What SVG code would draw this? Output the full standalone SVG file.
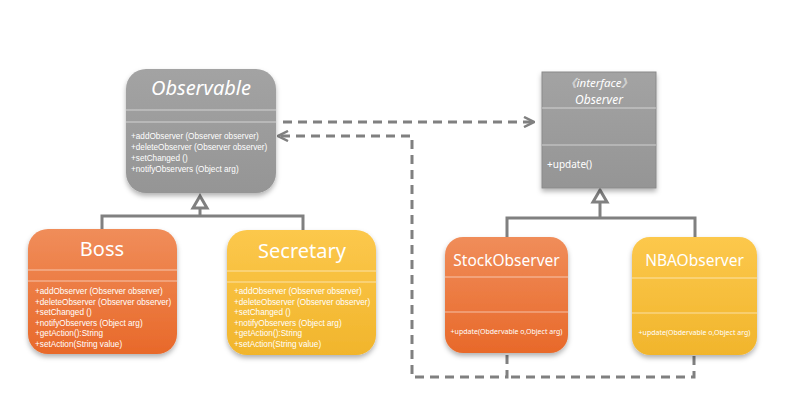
<svg xmlns="http://www.w3.org/2000/svg" width="792" height="401" viewBox="0 0 792 401">
<defs>
<linearGradient id="gGray" x1="0" y1="0" x2="0" y2="1"><stop offset="0" stop-color="#a3a3a3"/><stop offset="1" stop-color="#959595"/></linearGradient>
<linearGradient id="gOrange" x1="0" y1="0" x2="0" y2="1"><stop offset="0" stop-color="#f08d5a"/><stop offset="1" stop-color="#e8692a"/></linearGradient>
<linearGradient id="gYellow" x1="0" y1="0" x2="0" y2="1"><stop offset="0" stop-color="#fcc84c"/><stop offset="1" stop-color="#f1b52c"/></linearGradient>
<filter id="sh" x="-10%" y="-10%" width="120%" height="125%"><feDropShadow dx="0" dy="3" stdDeviation="2.5" flood-color="#000" flood-opacity="0.3"/></filter>
<marker id="open" viewBox="0 0 12 12" refX="11" refY="6" markerWidth="12" markerHeight="12" markerUnits="userSpaceOnUse" orient="auto"><path d="M1,1 L11,6 L1,11" fill="none" stroke="#808080" stroke-width="2.5"/></marker>
</defs>
<style>
.sep{stroke:#ffffff;stroke-opacity:0.55;stroke-width:1}
.t{font-family:"Noto Sans","Liberation Sans",sans-serif;fill:#ffffff}
.title{font-size:20px;text-anchor:middle}
.m{font-family:"Liberation Sans","Noto Sans",sans-serif;font-size:8.2px}
.conn{fill:none;stroke:#808080;stroke-width:3}
.dash{fill:none;stroke:#808080;stroke-width:3;stroke-dasharray:9,6}
.tri{fill:#ffffff;stroke:#808080;stroke-width:3}
</style>
<rect width="792" height="401" fill="#ffffff"/>
<g id="connectors">
<polyline class="conn" points="102,229 102,216 303,216 303,230"/>
<line class="conn" x1="200" y1="216" x2="200" y2="207"/>
<polygon class="tri" points="200,196 193,208 207,208"/>
<polyline class="conn" points="507,237 507,218 695,218 695,237"/>
<line class="conn" x1="600" y1="218" x2="600" y2="201"/>
<polygon class="tri" points="600,190 593,202 607,202"/>
<line class="dash" x1="283" y1="122" x2="534" y2="122" marker-end="url(#open)"/>
<polyline class="dash" points="507,355 507,377 412,377 412,136 278,136" marker-end="url(#open)"/>
<polyline class="dash" points="694,356 694,377 510,377"/>
</g>
<g id="Observable">
<rect x="126" y="69" width="150" height="124" rx="20" fill="url(#gGray)" filter="url(#sh)"/>
<line class="sep" x1="126" y1="110" x2="276" y2="110"/>
<line class="sep" x1="126" y1="122" x2="276" y2="122"/>
<text class="t title" x="201" y="95" font-style="italic" font-size="19">Observable</text>
<text class="t m" x="131" y="139">+addObserver (Observer observer)</text>
<text class="t m" x="131" y="150">+deleteObserver (Observer observer)</text>
<text class="t m" x="131" y="161">+setChanged ()</text>
<text class="t m" x="131" y="172">+notifyObservers (Object arg)</text>
</g>
<g id="Boss">
<rect x="28" y="229" width="149" height="125" rx="20" fill="url(#gOrange)" filter="url(#sh)"/>
<line class="sep" x1="28" y1="270" x2="177" y2="270"/>
<line class="sep" x1="28" y1="281" x2="177" y2="281"/>
<text class="t title" x="102" y="256">Boss</text>
<text class="t m" x="35" y="294">+addObserver (Observer observer)</text>
<text class="t m" x="35" y="304.5">+deleteObserver (Observer observer)</text>
<text class="t m" x="35" y="315">+setChanged ()</text>
<text class="t m" x="35" y="325.5">+notifyObservers (Object arg)</text>
<text class="t m" x="35" y="336">+getAction():String</text>
<text class="t m" x="35" y="346.5">+setAction(String value)</text>
</g>
<g id="Secretary">
<rect x="227" y="230" width="149" height="125" rx="20" fill="url(#gYellow)" filter="url(#sh)"/>
<line class="sep" x1="227" y1="271" x2="376" y2="271"/>
<line class="sep" x1="227" y1="282" x2="376" y2="282"/>
<text class="t title" x="302" y="258">Secretary</text>
<text class="t m" x="234" y="294">+addObserver (Observer observer)</text>
<text class="t m" x="234" y="304.5">+deleteObserver (Observer observer)</text>
<text class="t m" x="234" y="315">+setChanged ()</text>
<text class="t m" x="234" y="325.5">+notifyObservers (Object arg)</text>
<text class="t m" x="234" y="336">+getAction():String</text>
<text class="t m" x="234" y="346.5">+setAction(String value)</text>
</g>
<g id="Observer">
<rect x="542" y="72" width="114" height="116" fill="url(#gGray)" stroke="#8a8a8a" stroke-width="1" filter="url(#sh)"/>
<line class="sep" x1="542" y1="108" x2="656" y2="108"/>
<line class="sep" x1="542" y1="145" x2="656" y2="145"/>
<text class="t" x="599" y="87" font-size="11.5" font-style="italic" text-anchor="middle" font-family="'Noto Sans','Noto Sans CJK SC',sans-serif">《interface》</text>
<text class="t" x="599" y="104" font-size="12" font-style="italic" text-anchor="middle">Observer</text>
<text class="t" x="547" y="168" font-size="10">+update()</text>
</g>
<g id="StockObserver">
<rect x="445" y="237" width="123" height="116" rx="18" fill="url(#gOrange)" filter="url(#sh)"/>
<line class="sep" x1="445" y1="277" x2="568" y2="277"/>
<line class="sep" x1="445" y1="312" x2="568" y2="312"/>
<text class="t" x="506.5" y="266" font-size="15.5" text-anchor="middle">StockObserver</text>
<text class="t" x="506.5" y="334" font-size="7" text-anchor="middle" font-family="'Liberation Sans',sans-serif">+update(Obdervable o,Object arg)</text>
</g>
<g id="NBAObserver">
<rect x="632" y="237" width="125" height="118" rx="18" fill="url(#gYellow)" filter="url(#sh)"/>
<line class="sep" x1="632" y1="278" x2="757" y2="278"/>
<line class="sep" x1="632" y1="313" x2="757" y2="313"/>
<text class="t" x="694.5" y="266" font-size="15.5" text-anchor="middle">NBAObserver</text>
<text class="t" x="694.5" y="335" font-size="7" text-anchor="middle" font-family="'Liberation Sans',sans-serif">+update(Obdervable o,Object arg)</text>
</g>
</svg>
